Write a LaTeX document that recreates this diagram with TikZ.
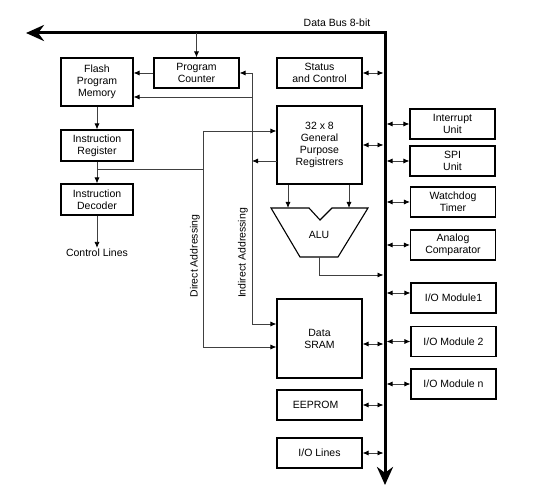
\documentclass[tikz,border=0pt]{standalone}
\usepackage{fontspec}
\setmainfont{Liberation Sans}
\usetikzlibrary{arrows.meta}
\begin{document}
\begin{tikzpicture}[x=1pt,y=-1pt,
  txt/.style={font=\fontsize{10.5}{12}\selectfont, align=center, inner sep=1pt},
  box/.style={txt, draw=black, line width=1.1pt, minimum width=85pt, minimum height=30pt},
  conn/.style={draw=black!75, line width=0.8pt},
  arr/.style={conn, -{Latex[length=6pt,width=5pt,color=black]}},
  darr/.style={conn, {Latex[length=6pt,width=5pt,color=black]}-{Latex[length=6pt,width=5pt,color=black]}, shorten >=1.5pt},
  bus/.style={line width=3pt, line join=miter, {Stealth[length=18pt,width=16pt]}-{Stealth[length=18pt,width=16pt]}}
]
\useasboundingbox (0,0) rectangle (538,494);

% data bus
\coordinate (busL) at (26,33);
\coordinate (busC) at (385,33);
\coordinate (busB) at (385,485);
\draw[bus] (busL) -- (busC) -- (busB);
\node[txt] (buslab) at (337,23) {Data Bus 8-bit};

% left column
\node[box, minimum width=72pt, minimum height=48pt] (flash) at (97,82) {Flash\\Program\\Memory};
\node[box] (pc) at (196.5,73) {Program\\Counter};
\node[box, minimum width=72pt, minimum height=31pt] (ir) at (97,145.5) {Instruction\\Register};
\node[box, minimum width=72pt, minimum height=31pt] (id) at (97,199.5) {Instruction\\Decoder};
\node[txt] (ctrl) at (97,253) {Control Lines};

% middle column
\node[box] (sc) at (319.5,73) {Status\\and Control};
\node[box, minimum height=78pt] (gpr) at (319.5,145) {32 x 8\\General\\Purpose\\Registrers};
\node[box, minimum height=79pt] (sram) at (319.5,338.5) {Data\\SRAM};
\node[box] (eeprom) at (319.5,405) {EEPROM\hspace*{8pt}};
\node[box] (iol) at (319.5,453) {I/O Lines};

% ALU
\draw[line width=1.1pt, line join=miter] (271,208) -- (309,208) -- (320,220) -- (332,208) -- (368,208) -- (338,257) -- (300,257) -- cycle;
\node[txt] (alu) at (319,235) {ALU};
\coordinate (aluL) at (288,208);
\coordinate (aluR) at (349,208);
\coordinate (aluO) at (319,257);
\coordinate (aluT) at (319,275);

% right column
\node[box] (int) at (452.5,124) {Interrupt\\Unit};
\node[box] (spi) at (452.5,161) {SPI\\Unit};
\node[box] (wdt) at (453,202) {Watchdog\\Timer};
\node[box] (ac) at (453,245) {Analog\\Comparator};
\node[box] (io1) at (453.5,298) {I/O Module1};
\node[box] (io2) at (453.5,341.5) {I/O Module 2};
\node[box] (ion) at (453.5,384) {I/O Module n};

% program flow
\draw[arr] (pc.north |- busL) -- (pc.north);
\draw[arr] (pc.west) -- (pc.west -| flash.east);
\draw[arr] (flash.south) -- (ir.north);
\draw[arr] (ir.south) -- (id.north);
\draw[arr] (id.south) -- (ctrl.north);

% direct addressing
\coordinate (dirT) at (203,131);
\coordinate (dirB) at (203,347);
\coordinate (irB) at (97,169);
\draw[conn] (irB) -- (irB -| dirT);
\draw[conn] (dirT) -- (dirB);
\draw[arr] (dirT) -- (dirT -| gpr.west);
\draw[arr] (dirB) -- (dirB -| sram.west);
\node[txt, rotate=90] (dlab) at (195,256) {Direct Addressing};

% indirect addressing
\coordinate (indT) at (252,73);
\coordinate (indF) at (252,97);
\coordinate (indB) at (252,324);
\coordinate (gprO) at (277,161);
\draw[conn] (indT) -- (indB);
\draw[arr] (indT) -- (pc.east);
\draw[arr] (indF) -- (indF -| flash.east);
\draw[arr] (indB) -- (indB -| sram.west);
\draw[arr] (gprO) -- (gprO -| indT);
\node[txt, rotate=90] (ilab) at (243,253) {Indirect Addressing};

% registers to ALU
\draw[arr] (gpr.south -| aluL) -- (aluL);
\draw[arr] (gpr.south -| aluR) -- (aluR);
\draw[arr] (aluO) -- (aluT) -- ([xshift=-1.5pt]aluT -| busC);

% bus connections, left side
\draw[darr] (sc.east) -- (sc.east -| busC);
\draw[darr] (gpr.east) -- (gpr.east -| busC);
\draw[darr] ([yshift=-5.5pt]sram.east) -- ([yshift=-5.5pt]sram.east -| busC);
\draw[darr] (eeprom.east) -- (eeprom.east -| busC);
\draw[darr] (iol.east) -- (iol.east -| busC);

% bus connections, right side
\draw[darr] (int.west) -- (int.west -| busC);
\draw[darr] (spi.west) -- (spi.west -| busC);
\draw[darr] (wdt.west) -- (wdt.west -| busC);
\draw[darr] (ac.west) -- (ac.west -| busC);
\draw[darr] ([yshift=5pt]io1.west) -- ([yshift=5pt]io1.west -| busC);
\draw[darr] (io2.west) -- (io2.west -| busC);
\draw[darr] (ion.west) -- (ion.west -| busC);
\end{tikzpicture}
\end{document}
